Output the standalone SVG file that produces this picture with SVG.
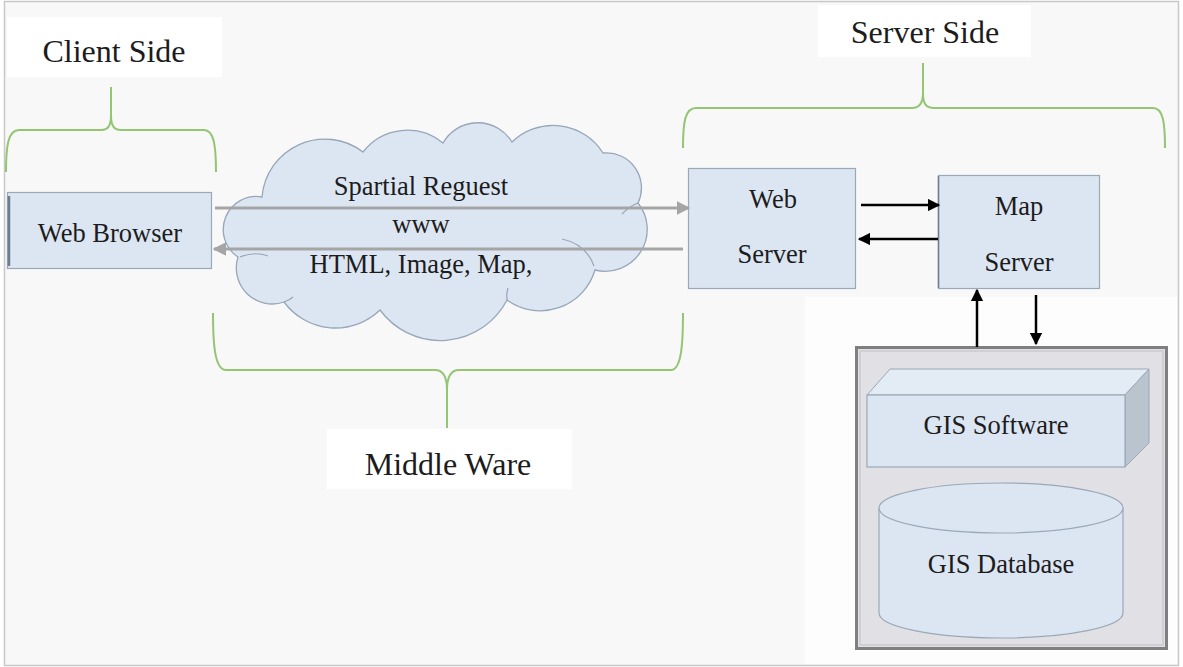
<svg xmlns="http://www.w3.org/2000/svg" width="1183" height="667" viewBox="0 0 1183 667">
  <style>
    .lbl { font-family: "Liberation Serif", "Times New Roman", serif; fill: #1c1c1c; text-anchor: middle; }
    .big { font-size: 32px; }
    .mid { font-size: 26.5px; }
    .box { fill: #dce6f2; stroke: #9aa8b8; stroke-width: 1.2; }
    .brace { fill: none; stroke: #93c572; stroke-width: 2; }
    .tag { fill: #ffffff; }
    .garrow { stroke: #a5a5a5; stroke-width: 3; fill: none; }
    .karrow { stroke: #000000; stroke-width: 2.5; fill: none; }
    .cloud-line { fill: none; stroke: #97a6b8; stroke-width: 1.2; }
  </style>
  <defs>
    <marker id="headGray" viewBox="0 0 10 10" refX="9" refY="5" markerWidth="4.5" markerHeight="4.5" orient="auto" markerUnits="strokeWidth">
      <path d="M0,0 L10,5 L0,10 Z" fill="#a5a5a5"/>
    </marker>
    <marker id="headBlack" viewBox="0 0 10 10" refX="9" refY="5" markerWidth="5" markerHeight="5" orient="auto" markerUnits="strokeWidth">
      <path d="M0,0 L10,5 L0,10 Z" fill="#000000"/>
    </marker>
  </defs>

  <!-- page -->
  <rect x="0" y="0" width="1183" height="667" fill="#ffffff"/>
  <rect x="4.5" y="1.5" width="1174" height="664" fill="#f8f8f8" stroke="#c8c8c8" stroke-width="1.5"/>
  <rect x="805" y="297" width="372" height="367" fill="#fdfdfd"/>

  <!-- group labels -->
  <g id="client-side">
    <rect class="tag" x="7" y="17" width="215" height="60"/>
    <text class="lbl big" x="114" y="62">Client Side</text>
    <path class="brace" d="M6,172 C6,146 8,130 19,130 L101,130 C108,130 111,126 111,115 L111,87 M111,115 C111,126 114,130 121,130 L204,130 C214,130 216,146 216,172"/>
  </g>

  <g id="server-side">
    <rect class="tag" x="818" y="5" width="213" height="52"/>
    <text class="lbl big" x="925" y="43">Server Side</text>
    <path class="brace" d="M683,148 C683,122 685,108 696,108 L912,108 C919,108 923,104 923,93 L923,63 M923,93 C923,104 926,108 934,108 L1153,108 C1163,108 1165,122 1165,148"/>
  </g>

  <g id="middle-ware">
    <path class="brace" d="M213,313 C213,340 214,370 226,370 L435,370 C443,370 447,376 447,390 L447,428 M447,390 C447,376 451,370 459,370 L671,370 C682,370 683,340 683,313"/>
    <rect class="tag" x="327" y="429" width="245" height="60"/>
    <text class="lbl big" x="448" y="475">Middle Ware</text>
  </g>

  <!-- internet cloud -->
  <g id="www-cloud">
    <path d="M238,257 A33,33 0 0 1 262,197 A63,63 0 0 1 363,152 A56,56 0 0 1 443,143 A40,40 0 0 1 512,142 A59,59 0 0 1 603,153 A35,35 0 0 1 638,203 A42,42 0 0 1 595,270 A57,57 0 0 1 507,300 A75,75 0 0 1 380,310 A64,64 0 0 1 284,302 A36,36 0 0 1 238,257 Z" fill="#dce6f2" stroke="#97a6b8" stroke-width="1.3"/>
    <path class="cloud-line" d="M240,257 Q255,251 268,256"/>
    <path class="cloud-line" d="M638,203 Q630,206 622,214"/>
    <path class="cloud-line" d="M562,239 Q586,244 594,266"/>
    <path class="cloud-line" d="M284,302 Q290,300 293,297"/>
    <path class="cloud-line" d="M507,300 Q506,294 508,288"/>
  </g>

  <g id="web-browser">
    <rect class="box" x="7.5" y="192.5" width="204" height="76"/>
    <line x1="9" y1="196" x2="9" y2="266" stroke="#6b7c90" stroke-width="2.5"/>
    <text class="lbl mid" x="110" y="242">Web Browser</text>
  </g>

  <g id="web-server">
    <rect class="box" x="688.5" y="168.5" width="167" height="120"/>
    <text class="lbl mid" x="773" y="208">Web</text>
    <text class="lbl mid" x="772" y="263">Server</text>
  </g>

  <g id="map-server">
    <rect class="box" x="938.5" y="175.5" width="161" height="113"/>
    <line x1="938.5" y1="176" x2="938.5" y2="288" stroke="#6b7c90" stroke-width="1.5"/>
    <text class="lbl mid" x="1019" y="215">Map</text>
    <text class="lbl mid" x="1019" y="271">Server</text>
  </g>

  <!-- GIS host -->
  <g id="gis-host">
    <rect x="856.5" y="347.5" width="310" height="301" fill="#e1e0e4" stroke="#7f7f7f" stroke-width="3"/>
    <rect x="860" y="351" width="303" height="294" fill="none" stroke="#d0cfd3" stroke-width="2"/>
  </g>

  <g id="gis-software">
    <path d="M867,395 L890,369 L1149,369 L1125,395 Z" fill="#e3ebf5" stroke="#9aa8b8" stroke-width="1"/>
    <path d="M1125,395 L1149,369 L1149,443 L1125,467 Z" fill="#b9c4cf" stroke="#9aa8b8" stroke-width="1"/>
    <rect class="box" x="867" y="395" width="258" height="72"/>
    <text class="lbl mid" x="996" y="434">GIS Software</text>
  </g>

  <g id="gis-database">
    <path d="M879,508 L879,613 A122,25 0 0 0 1123,613 L1123,508" fill="#dce6f2" stroke="#9aa8b8" stroke-width="1.2"/>
    <ellipse cx="1001" cy="508" rx="122" ry="25" fill="#dce6f2" stroke="#9aa8b8" stroke-width="1.2"/>
    <text class="lbl mid" x="1001" y="573">GIS Database</text>
  </g>

  <!-- connectors -->
  <g id="connectors">
    <line class="garrow" x1="215" y1="208" x2="689" y2="208" marker-end="url(#headGray)"/>
    <line class="garrow" x1="683" y1="249" x2="214" y2="249" marker-end="url(#headGray)"/>
    <text class="lbl mid" x="421" y="195">Spartial Reguest</text>
    <text class="lbl mid" x="421" y="233">www</text>
    <text class="lbl mid" x="421" y="273">HTML, Image, Map,</text>

    <line class="karrow" x1="861" y1="205" x2="939" y2="205" marker-end="url(#headBlack)"/>
    <line class="karrow" x1="938" y1="239" x2="859" y2="239" marker-end="url(#headBlack)"/>
    <line class="karrow" x1="977" y1="347" x2="977" y2="290" marker-end="url(#headBlack)"/>
    <line class="karrow" x1="1036" y1="295" x2="1036" y2="344" marker-end="url(#headBlack)"/>
  </g>
</svg>
